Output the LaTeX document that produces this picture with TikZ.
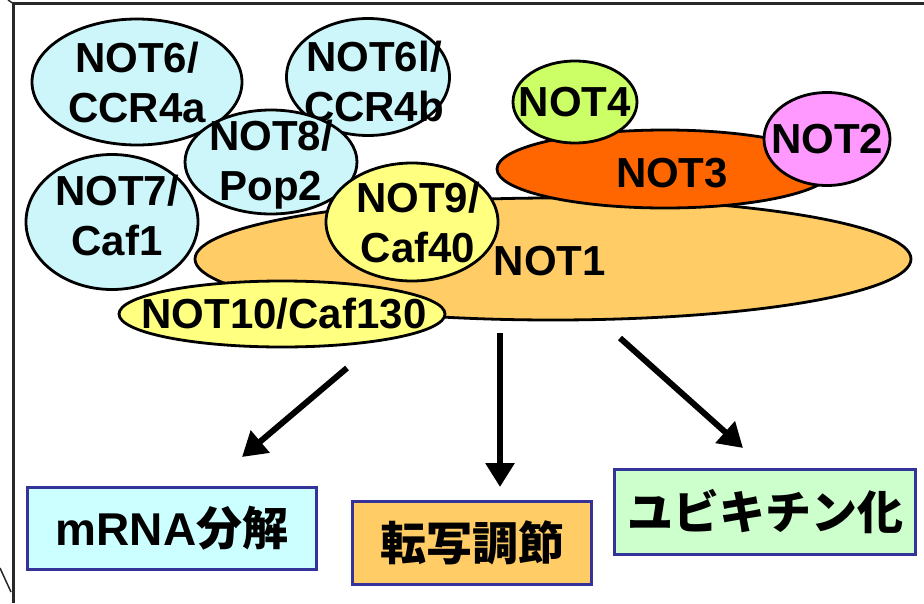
\documentclass[tikz,border=0pt]{standalone}
\usepackage{fontspec}
\setmainfont{Liberation Sans}
\newfontfamily\jpfont{Noto Sans CJK JP}
\usetikzlibrary{shapes.geometric,arrows.meta}
\definecolor{ccyan}{RGB}{204,246,250}
\definecolor{cyel}{RGB}{255,255,128}
\definecolor{corg}{RGB}{255,204,102}
\definecolor{cred}{RGB}{255,102,0}
\definecolor{clime}{RGB}{204,255,102}
\definecolor{cpink}{RGB}{255,153,255}
\definecolor{boxcyan}{RGB}{204,255,255}
\definecolor{boxgreen}{RGB}{204,255,204}
\definecolor{boxblue}{RGB}{51,51,153}
\definecolor{framegray}{RGB}{40,40,40}
\begin{document}
\begin{tikzpicture}[x=1pt,y=-1pt,
  blob/.style={ellipse, draw=black, line width=2.8pt, inner sep=0pt},
  lbl/.style={font=\fontsize{42}{50}\selectfont\bfseries, align=center, inner sep=0pt, text=black},
  outbox/.style={draw=boxblue, line width=3pt, inner sep=0pt, font=\fontsize{46}{50}\selectfont\bfseries},
  arr/.style={line width=6pt, draw=black, -{Triangle[length=24pt,width=28pt]}},
  framelne/.style={draw=framegray, line width=3pt}]
\useasboundingbox (0,0) rectangle (924,603);
% frame
\draw[framelne] (13,603) -- (13,3) -- (924,3);
\draw[framegray, line width=1.5pt] (8,0) -- (14,4);
\draw[framegray, line width=1.5pt] (0,568) -- (11,592);
% ellipses
\node[blob, fill=corg, minimum width=716, minimum height=122,
  label={[lbl, xshift=-3pt, yshift=-2pt]center:NOT1}] (n1) at (553,259) {};
\node[blob, fill=cred, minimum width=336, minimum height=78,
  label={[lbl, xshift=7pt, yshift=-4pt]center:NOT3}] (n3) at (665,169) {};
\node[blob, fill=clime, minimum width=124, minimum height=82,
  label={[lbl]center:NOT4}] (n4) at (575,102) {};
\node[blob, fill=cpink, minimum width=126, minimum height=93,
  label={[lbl]center:NOT2}] (n2) at (827,139) {};
\node[blob, fill=ccyan, minimum width=210, minimum height=126,
  label={[lbl]center:NOT6/\\CCR4a}] (n6) at (137,82) {};
\node[blob, fill=ccyan, minimum width=163, minimum height=117,
  label={[lbl, xshift=6pt, yshift=-4pt]center:NOT6l/\\CCR4b}] (n6l) at (368,77) {};
\node[blob, fill=ccyan, minimum width=172, minimum height=135,
  label={[lbl, xshift=5pt, yshift=7pt]center:NOT7/\\Caf1}] (n7) at (112,222) {};
\node[blob, fill=ccyan, minimum width=172, minimum height=104,
  label={[lbl, yshift=-3pt]center:NOT8/\\Pop2}] (n8) at (271,162) {};
\node[blob, fill=cyel, minimum width=172, minimum height=118,
  label={[lbl, xshift=6pt]center:NOT9/\\Caf40}] (n9) at (412,222) {};
\node[blob, fill=cyel, minimum width=326, minimum height=66,
  label={[lbl, xshift=2pt]center:NOT10/Caf130}] (n10) at (282,314) {};
% outcome boxes
\node[outbox, fill=boxcyan, minimum width=289, minimum height=82] (b1) at (172,528) {mRNA{\jpfont 分解}};
\node[outbox, fill=corg, minimum width=239, minimum height=83] (b2) at (472,543) {\jpfont 転写調節};
\node[outbox, fill=boxgreen, minimum width=301, minimum height=85] (b3) at (765,512) {\jpfont ユビキチン化};
% arrows
\coordinate (a1s) at (347,368); \coordinate (a1e) at (242,457);
\coordinate (a2s) at (500,333); \coordinate (a2e) at (500,487);
\coordinate (a3s) at (620,338); \coordinate (a3e) at (743,448);
\draw[arr] (a1s) -- (a1e);
\draw[arr] (a2s) -- (a2e);
\draw[arr] (a3s) -- (a3e);
\end{tikzpicture}
\end{document}
